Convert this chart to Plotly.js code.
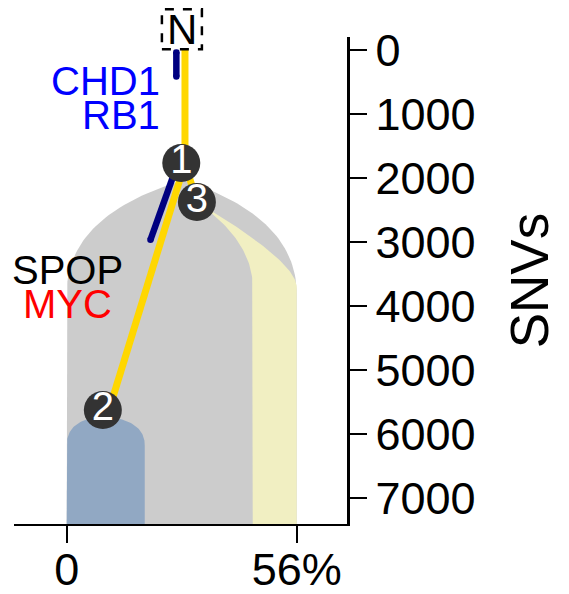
<!DOCTYPE html>
<html><head><meta charset="utf-8">
<script src="https://cdn.plot.ly/plotly-3.0.1.min.js"></script>
<style>html,body{margin:0;padding:0;background:#fff}#chart{width:569px;height:594px}</style>
</head><body><div id="chart"></div>
<script>
// ---- Clones (cellular fraction in %, depth in SNVs) ----
const cloneNames = ['trunk', 'clone3', 'clone2'];
const cloneLeft = [0, 45.3, 0];
const cloneRight = [56, 56, 19];
const cloneApexX = [28.5, 31.7, 8.8];
const cloneApexY = [2027, 2370, 5720];
const clonePlateauY = [3800, 3700, 6170];

// ---- Tree nodes ----
const nodeLabels = ['1', '2', '3'];
const nodeX = [27.9, 8.8, 31.7];
const nodeY = [1760, 5620, 2370];
const normalLabel = 'N';
const normalX = 28.05;
const normalY = -330;

// ---- Branches ----
const branchX0 = [28.8, 28.8, 28.8];
const branchY0 = [-330, 1760, 1760];
const branchX1 = [28.8, 31.7, 10.3];
const branchY1 = [1760, 2370, 5620];

// ---- Driver marks ----
const driverX0 = [26.7, 26.3];
const driverY0 = [30, 1900];
const driverX1 = [26.7, 20.4];
const driverY1 = [410, 2960];

// ---- Driver gene labels ----
const geneText = ['CHD1', 'RB1', 'SPOP', 'MYC'];
const geneX = [23.3, 23.3, 0.2, 0.2];
const geneY = [480, 1003, 3433, 3964];

// ---- Axes ----
const xTickVals = [0, 56];
const xTickText = ['0', '56%'];
const yTickVals = [0, 1000, 2000, 3000, 4000, 5000, 6000, 7000];
const yTickText = ['0', '1000', '2000', '3000', '4000', '5000', '6000', '7000'];
const xRange = [-12.83, 68.25];
const yRange = [7401, -208];

// ---- Styles ----
const cloneColors = ['#cccccc', '#f1efc2', '#91a8c3'];
const cloneShoulderL = [0.31, 0.46, 0.1];
const cloneShoulderR = [0.33, 0.70, 0.1];
const geneColors = ['#0000ff', '#0000ff', '#000000', '#ff0000'];
const geneAnchor = ['right', 'right', 'center', 'center'];
const FONT = 'Liberation Sans, Arial, sans-serif';

function bez(p0, p1, p2, n) {
  const out = [];
  for (let i = 0; i <= n; i++) {
    const t = i / n, a = (1 - t) * (1 - t), b = 2 * (1 - t) * t, c = t * t;
    out.push([a * p0[0] + b * p1[0] + c * p2[0], a * p0[1] + b * p1[1] + c * p2[1]]);
  }
  return out;
}

const traces = [];
const bottom = yRange[0];
for (let k = 0; k < cloneNames.length; k++) {
  const ax = cloneApexX[k], ay = cloneApexY[k], py = clonePlateauY[k];
  const cyL = ay + cloneShoulderL[k] * (py - ay);
  const cyR = ay + cloneShoulderR[k] * (py - ay);
  const L = bez([cloneLeft[k], py], [cloneLeft[k], cyL], [ax, ay], 40);
  const R = bez([ax, ay], [cloneRight[k], cyR], [cloneRight[k], py], 40);
  const pts = [[cloneLeft[k], bottom]].concat(L, R, [[cloneRight[k], bottom]]);
  traces.push({
    type: 'scatter', mode: 'lines', x: pts.map(p => p[0]), y: pts.map(p => p[1]),
    fill: 'toself', fillcolor: cloneColors[k], line: {width: 0, color: cloneColors[k]},
    hoverinfo: 'skip', showlegend: false
  });
}
for (let i = 0; i < branchX0.length; i++) {
  traces.push({
    type: 'scatter', mode: 'lines', x: [branchX0[i], branchX1[i]], y: [branchY0[i], branchY1[i]],
    line: {color: '#ffd700', width: 7}, hoverinfo: 'skip', showlegend: false
  });
}
for (let i = 0; i < driverX0.length; i++) {
  traces.push({
    type: 'scatter', mode: 'lines+markers', x: [driverX0[i], driverX1[i]], y: [driverY0[i], driverY1[i]],
    line: {color: '#000080', width: 6.5}, marker: {color: '#000080', size: 6.5},
    hoverinfo: 'skip', showlegend: false
  });
}
traces.push({
  type: 'scatter', mode: 'markers+text', x: nodeX, y: nodeY, text: nodeLabels,
  textposition: 'middle center', textfont: {color: '#ffffff', size: 40, family: FONT},
  marker: {size: 38, color: '#333333', line: {width: 0}}, hoverinfo: 'skip', showlegend: false
});

const normalPaperY = (yRange[0] - normalY) / (yRange[0] - yRange[1]);
const annotations = geneText.map((t, i) => ({
  x: geneX[i], y: geneY[i], xref: 'x', yref: 'y', text: t, showarrow: false,
  xanchor: geneAnchor[i], yanchor: 'middle', font: {size: 40, color: geneColors[i], family: FONT}
}));
annotations.push({
  x: normalX, y: normalPaperY, xref: 'x', yref: 'paper', text: normalLabel, showarrow: false,
  xanchor: 'center', yanchor: 'middle', font: {size: 42, color: '#000', family: FONT}
});

const shapes = [{
  type: 'rect', xref: 'x', yref: 'paper', xsizemode: 'pixel', ysizemode: 'pixel',
  xanchor: normalX, yanchor: normalPaperY, x0: -20, x1: 20, y0: -20, y1: 20,
  line: {color: '#000', width: 2.5, dash: 'dash'}, fillcolor: '#ffffff', layer: 'above'
}];

const layout = {
  width: 569, height: 594,
  margin: {l: 14, r: 222, t: 37, b: 70, pad: 0},
  paper_bgcolor: '#fff', plot_bgcolor: '#fff',
  showlegend: false,
  font: {family: FONT, color: '#000'},
  xaxis: {
    range: xRange, tickvals: xTickVals, ticktext: xTickText, ticks: 'outside',
    ticklen: 17, tickwidth: 2, tickcolor: '#000', showline: true, linewidth: 2, linecolor: '#000',
    showgrid: false, zeroline: false, tickfont: {size: 45, color: '#000', family: FONT},
    ticklabelstandoff: -12, automargin: false
  },
  yaxis: {
    range: yRange, side: 'right', tickvals: yTickVals, ticktext: yTickText, ticks: 'outside',
    ticklen: 17, tickwidth: 2, tickcolor: '#000', showline: true, linewidth: 2.5, linecolor: '#000',
    showgrid: false, zeroline: false, tickfont: {size: 45, color: '#000', family: FONT},
    title: {text: 'SNVs', font: {size: 53, color: '#000', family: FONT}, standoff: 37}, automargin: false
  },
  annotations: annotations,
  shapes: shapes
};
Plotly.newPlot('chart', traces, layout, {displayModeBar: false, staticPlot: true});
</script>
</body></html>
